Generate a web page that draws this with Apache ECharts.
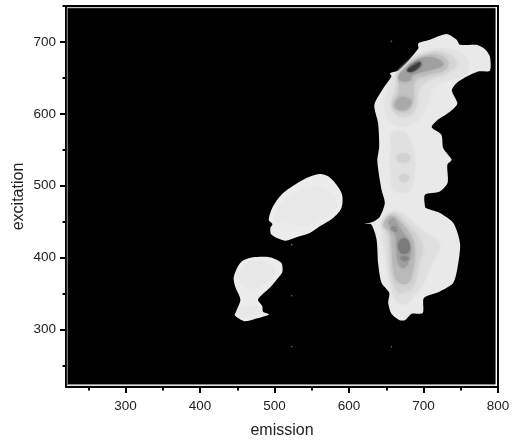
<!DOCTYPE html>
<html><head><meta charset="utf-8">
<style>html,body{margin:0;padding:0;background:#fff}#c{width:513px;height:441px;filter:blur(0.4px)}</style>
<script src="https://cdn.jsdelivr.net/npm/echarts@6/dist/echarts.min.js"></script>
</head><body><div id="c"></div>
<script>
const xMajor=[300,400,500,600,700,800];
const xMinor=[250,350,450,550,650,750];
const yMajor=[300,400,500,600,700];
const yMinor=[250,350,450,550,650,750];
const specks=[[657,701],[523,418],[523,347],[523,276],[657,276]];

// contour outlines, [emission, excitation]
const frame=[[221,222.5],[796.6,222.5],[796.6,748],[221,748]];
const field=[[222.5,224],[796.6,224],[796.6,747],[222.5,747]];
const rightBand=[[731,711],[744.5,703],[749,696],[771.3,696],[782.5,690],[789,680],[789,660],[773.6,659],[758,652],[744.5,643],[738,632.5],[745.4,614],[733,601],[718.5,591],[711,581.5],[724,571],[726.5,552],[737.7,536],[732,529],[732.4,504],[722,492],[702,487.5],[702,471],[703,469],[722,462],[740,448],[749,420],[746.7,392.5],[740,365],[722,353],[700.6,344],[699,323],[684,322],[675,313],[668,313],[657,322],[652.6,337],[654,351],[643.6,365],[639,392.5],[637,425],[630,446],[621,447],[632.5,450],[641.4,457],[648,476],[643.7,494],[638,534],[640.5,554.7],[639,587],[634,612.5],[646,635.7],[657,652],[655,656.5],[668,661],[693,691],[693,698],[708.6,703]];
const blobA=[[560.7,516.2],[571.9,513],[583.1,501.4],[590.7,487.5],[589.8,469],[578.6,455.1],[560.7,443.5],[547.3,434.3],[529.3,428.3],[513.7,423.6],[495.7,432],[494.4,441.2],[497.1,446.8],[492.2,452.8],[498,471.3],[509.2,487.5],[520.4,496.8],[542.8,510.7]];
const blobAInner=[[529.3,489.8],[556.2,499.1],[578.6,487.5],[583.1,469],[565.2,455.1],[542.8,445.9],[515.9,448.2],[500.2,452.8],[507,471.3]];
const blobB=[[471.1,400.5],[493.5,400.5],[509.2,392.6],[510.5,380.1],[504.7,371.8],[493.5,357.9],[477.8,341.7],[483.6,332.4],[484.5,324.6],[492.6,320.9],[475.6,315.3],[459.9,311.6],[446.5,319.9],[448.7,325.5],[454.1,341.7],[447.8,357.9],[445.1,371.8],[450.9,388],[457.7,395.9]];
const blobBInner=[[471.1,394.9],[493.5,390.3],[500.2,381],[493.5,369.5],[475.6,357.9],[459.9,360.2],[453.2,371.8],[457.7,385.7]];
const blobBFoot=[[453.2,330.1],[475.6,332.4],[480.1,323.2],[462.1,316.2],[450.9,320.9]];
const upper1=[[672.8,665.8],[695,684],[722,691],[744.5,686.6],[760,672.7],[755.7,654],[735.5,647],[713,635.7],[706.4,615],[697.4,596.3],[677.3,582.4],[657,587],[648,605.6],[650.4,628.7],[657,647.3]];
const upper2=[[677.3,665.8],[697.4,680.6],[719.8,686.6],[737.7,679.7],[744.5,668],[731,656.5],[706.4,647],[693,631],[690.7,610.2],[679.5,596.3],[663.8,598.6],[657,612.5],[661.6,631],[666,649.6],[668.3,656.5]];
const upper3=[[679.5,668],[697.4,678.7],[719.8,682],[733.3,672.7],[728.8,661],[706.4,654],[688.5,645],[686.2,619.5],[679.5,605.6],[666,604.7],[659.3,612.5],[666,626.4],[667.4,645],[668.3,654]];
const upper4=[[684,670.4],[702,678.7],[719.8,676],[726.5,668],[708.6,661],[686,654],[681.7,646],[668.3,646],[666.5,654],[675,662]];
const upper4b=[[668.3,623],[679.5,621.8],[684,615],[677.3,606.5],[666,606.5],[661.6,612.5]];
const upper5=[[681.7,665.8],[693,672.7],[697.4,668],[688.5,660],[678.2,658.8]];
const upper6=[[678.2,661],[688.5,668],[696,671.8],[693,665],[684,658.4]];
const mid1=[[657,573],[672.8,575.5],[681.7,564],[688.5,536],[686.2,508.4],[679.5,492],[659.3,494.5],[657,513],[654.9,536],[657,554.7]];
const mid2a=[[663.8,539.4],[668.3,544.5],[677.3,544.5],[683,539.4],[677.3,533],[668.3,533]];
const mid2b=[[667.4,510.7],[670.5,515.3],[678.2,515.3],[680.8,509.7],[675,505],[669.2,506.5]];
const lower1=[[645.9,452.7],[659.3,464.3],[677.3,457.4],[697.4,438.8],[719.8,422.6],[722,413.4],[710.9,390.2],[697.4,360],[686.2,346.2],[675,334.7],[663.8,339.3],[657,355.5],[652.6,378.6],[645.9,420.3],[643.7,443.5]];
const lower2=[[648.1,452.7],[659.3,461],[675,450.4],[693,429.6],[698.8,411],[693,387.9],[686.2,360],[668.3,350.9],[659.3,364.8],[654.9,392.5],[652.6,429.6]];
const lower3=[[645.9,445.8],[657.1,458.3],[670.5,448.1],[684,429.6],[688.5,411],[686.2,383.3],[679.5,364.8],[666,365.7],[659.3,383.3],[657.1,415.7],[654.9,434.2]];
const lower4=[[652.6,448.1],[659.3,455],[668.3,441.2],[677.3,427.3],[682.6,413.4],[679.5,392.5],[672.8,385.6],[666,392.5],[663.8,415.7],[661.6,434.2]];
const lower5=[[666,418],[670.5,425.9],[678.2,425],[681.7,415.7],[679.5,407.4],[670.5,405.5],[667.4,411]];
const lower5b=[[668.3,399.5],[675,401.8],[680.8,398.6],[675,394.9]];
const lower5c=[[655.8,441.2],[661.6,443.5],[664.7,436.5],[659.3,436.5]];

const layers=[
 [frame,'#8a8a8a',0,0],[field,'#000000',0,0],
 [rightBand,'#e9e9e9',.25,0],[blobA,'#ececec',.3,0],[blobB,'#ececec',.25,0],
 [blobAInner,'#e8e8e8',.4,3],[blobBInner,'#e7e7e7',.4,3],[blobBFoot,'#e7e7e7',.4,3],
 [upper1,'#e3e3e3',.4,3],[upper2,'#d6d6d6',.4,4],[upper3,'#c2c2c2',.4,4],[upper4,'#a0a0a0',.4,4],[upper4b,'#aaaaaa',.4,4],[upper5,'#6e6e6e',.4,3],[upper6,'#3c3c3c',.4,2],
 [mid1,'#e1e1e1',.4,3],[mid2a,'#d2d2d2',.4,3],[mid2b,'#d2d2d2',.4,3],
 [lower1,'#e0e0e0',.4,3],[lower2,'#d3d3d3',.4,4],[lower3,'#bababa',.4,4],[lower4,'#9f9f9f',.4,4],[lower5,'#7a7a7a',.4,3],[lower5b,'#858585',.3,2],[lower5c,'#8a8a8a',.3,2]
];
const textFont='"Liberation Sans"';
function axis(name,major,minor,pos){
 const base={type:'value',min:220,max:pos==='bottom'?800:750,position:pos,splitLine:{show:false}};
 return [
  Object.assign({},base,{name:name,nameLocation:'middle',nameMoveOverlap:false,nameGap:pos==='bottom'?36:39,
   nameTextStyle:{fontFamily:textFont,fontSize:16,color:'#222'},
   axisLine:{show:true,onZero:false,lineStyle:{color:'#000',width:2}},
   axisTick:{show:true,length:6,customValues:major,lineStyle:{color:'#000',width:2}},
   axisLabel:{show:true,customValues:major,margin:pos==='bottom'?12:10,fontFamily:textFont,fontSize:13.5,color:'#222'}}),
  Object.assign({},base,{axisLine:{show:false},
   axisTick:{show:true,length:3.5,customValues:minor,lineStyle:{color:'#000',width:2}},
   axisLabel:{show:false}})
 ];
}
const chart=echarts.init(document.getElementById('c'),null,{renderer:'canvas'});
chart.setOption({
 animation:false,backgroundColor:'#fff',
 grid:{left:66,right:15,top:6,bottom:54,outerBoundsMode:'none',show:true,borderColor:'#000',borderWidth:2,backgroundColor:'#fff'},
 xAxis:axis('emission',xMajor,xMinor,'bottom'),
 yAxis:axis('excitation',yMajor,yMinor,'left'),
 series:[
  {type:'custom',coordinateSystem:'cartesian2d',silent:true,clip:false,
   data:layers.map((l,i)=>[i]),encode:{x:0},
   renderItem:(p,api)=>{
     const l=layers[p.dataIndex];
     return {type:'polygon',shape:{points:l[0].map(q=>api.coord(q)),smooth:l[2]},
       style:{fill:l[1],shadowBlur:l[3],shadowColor:l[1]}};
   }},
  {type:'scatter',silent:true,data:specks,symbolSize:1.6,itemStyle:{color:'#888'}}
 ]
});
</script></body></html>
